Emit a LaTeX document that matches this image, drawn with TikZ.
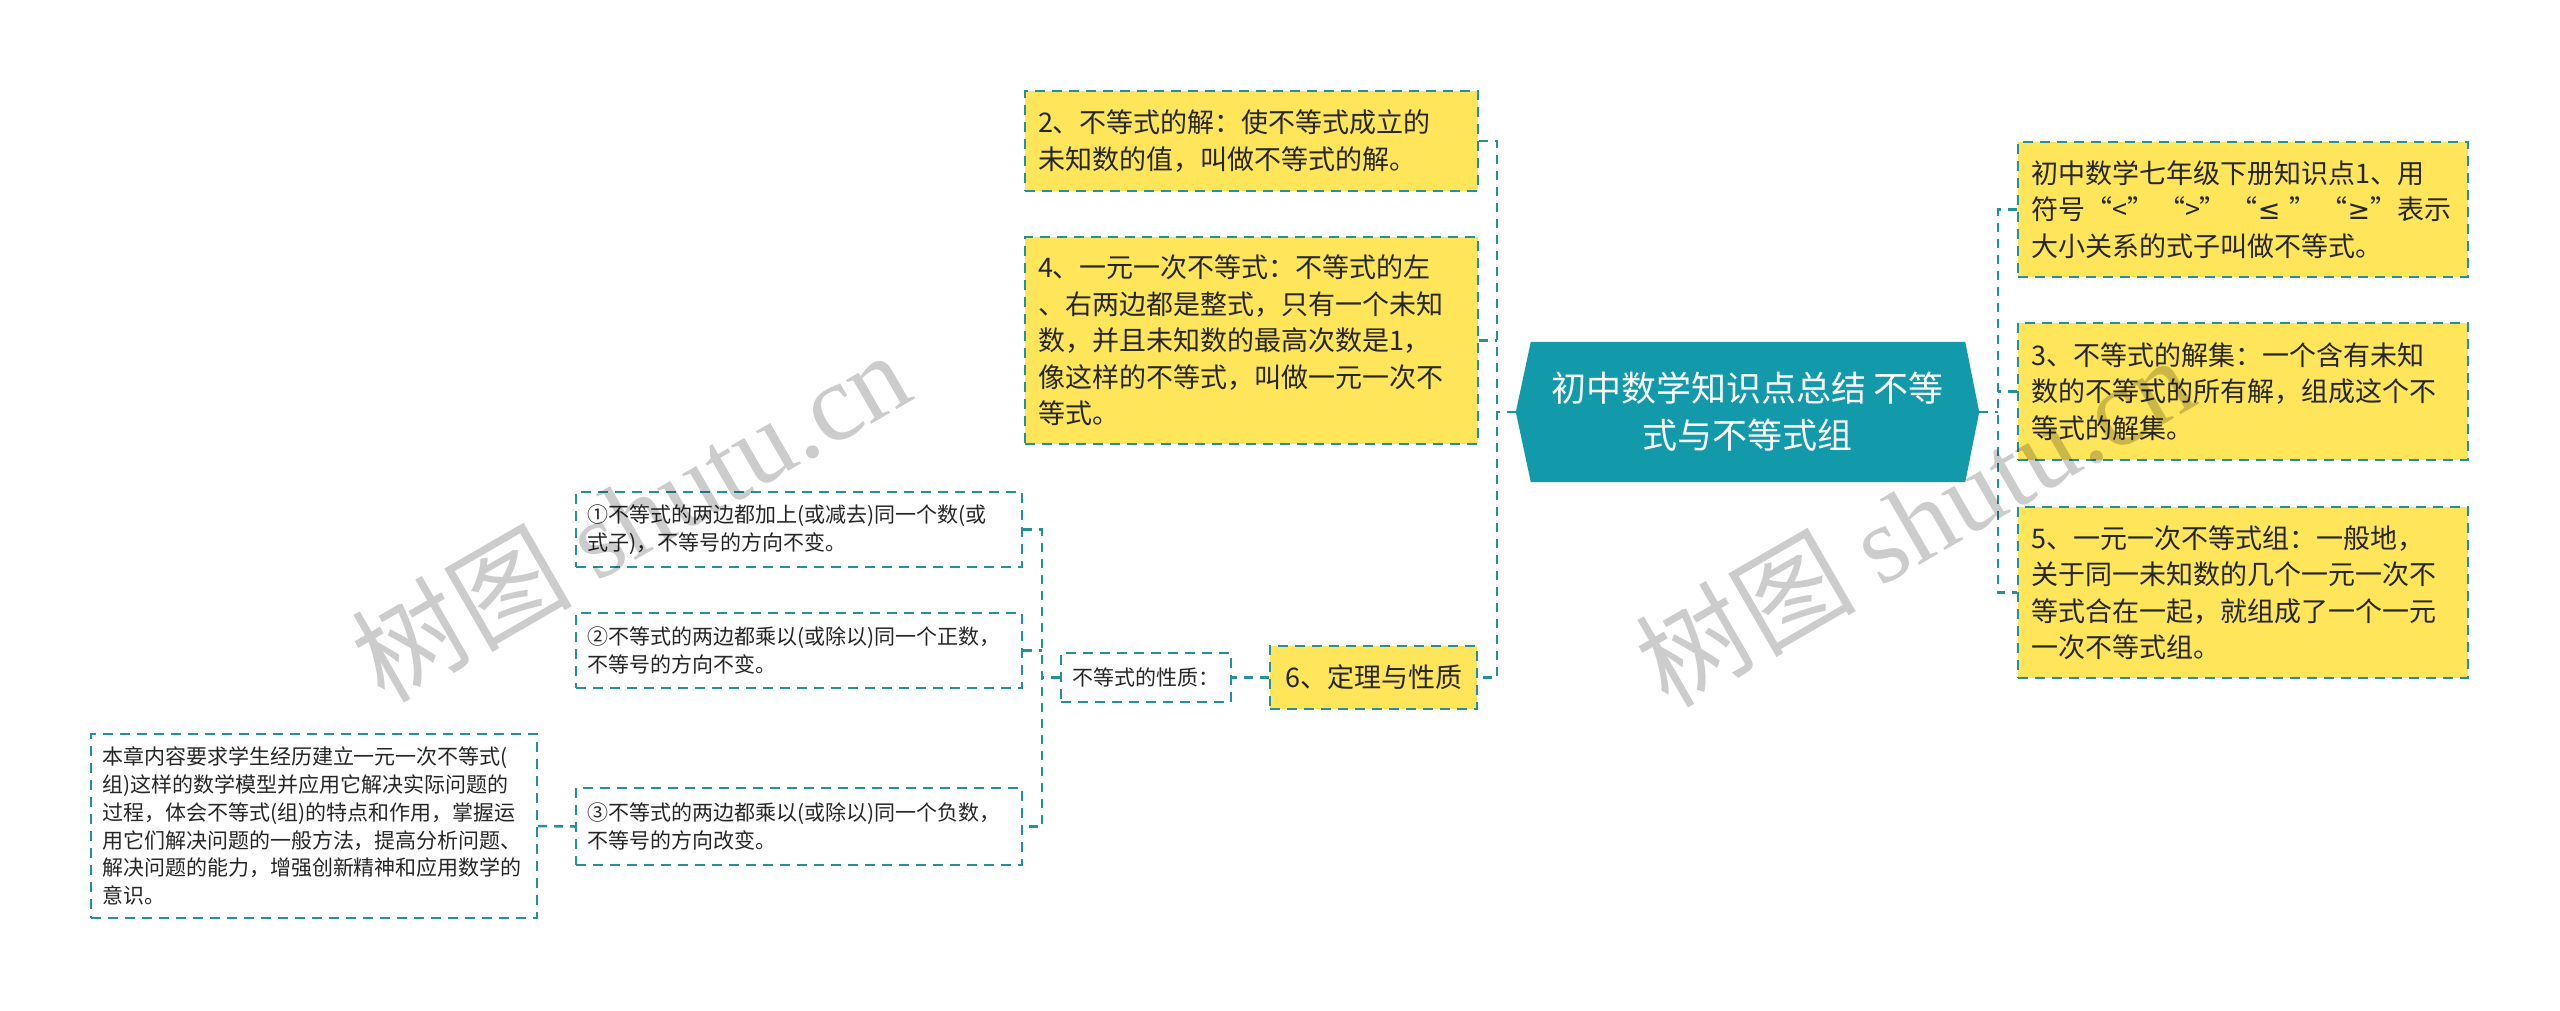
\documentclass[tikz,border=0pt]{standalone}
\usepackage{fontspec}
\setmainfont{Noto Sans CJK SC}
\newfontfamily\wmserif{Liberation Serif}
\newfontfamily\symfont{DejaVu Sans}
\usetikzlibrary{backgrounds}
\definecolor{yel}{HTML}{FEE55A}
\definecolor{tealline}{HTML}{23909B}
\definecolor{hexfill}{HTML}{129AAA}
\definecolor{txt}{HTML}{262626}
\tikzset{
  conn/.style={draw=tealline, line width=2.5pt, dash pattern=on 9pt off 7pt},
  boxbase/.style={draw=tealline, line width=2pt, dash pattern=on 10pt off 7pt, text=txt, inner ysep=0pt, anchor=center},
  ybox/.style={boxbase, fill=yel, align=left, inner xsep=13pt},
  wbox/.style={boxbase, fill=white, align=left, inner xsep=11pt},
  bigtext/.style={font=\fontsize{27}{36.5}\selectfont},
  smalltext/.style={font=\fontsize{21}{27.8}\selectfont},
  hubtext/.style={font=\fontsize{35}{47}\selectfont, text=white, align=center, inner sep=0pt},
  watermark/.style={rotate=30, text=black, text opacity=0.2, font=\fontsize{110}{110}\selectfont, inner sep=0pt}
}
\begin{document}
\begin{tikzpicture}[x=1pt, y=-1pt]
\useasboundingbox (0,0) rectangle (2560,1010);

% central hub
\node[hubtext, minimum width=463pt, minimum height=140pt] (c) at (1747.5,412) {初中数学知识点总结 不等\\式与不等式组};
\begin{scope}[on background layer]
\fill[white] (0,0) rectangle (2560,1010);
\fill[hexfill] (c.west) -- ([xshift=15pt]c.north west) -- ([xshift=-14pt]c.north east) -- (c.east) -- ([xshift=-14pt]c.south east) -- ([xshift=15pt]c.south west) -- cycle;
\end{scope}

% left branch nodes
\node[ybox, bigtext, text width=427pt, minimum height=100pt] (n2) at (1251.5,141) {2、不等式的解：使不等式成立的\\未知数的值，叫做不等式的解。};
\node[ybox, bigtext, text width=427pt, minimum height=207pt] (n4) at (1251.5,340.5) {4、一元一次不等式：不等式的左\\、右两边都是整式，只有一个未知\\数，并且未知数的最高次数是1，\\像这样的不等式，叫做一元一次不\\等式。};
\node[ybox, bigtext, align=center, minimum width=207pt, minimum height=63pt] (n6) at (1373.5,677.5) {6、定理与性质};

% right branch nodes
\node[ybox, bigtext, text width=424pt, minimum height=135pt] (r1) at (2243,209.5) {初中数学七年级下册知识点1、用\\符号“<”\hspace{4pt}“>”\hspace{4pt}“{\symfont ≤} ”\hspace{4pt}“{\symfont ≥}”表示\\大小关系的式子叫做不等式。};
\node[ybox, bigtext, text width=424pt, minimum height=137pt] (r3) at (2243,391.5) {3、不等式的解集：一个含有未知\\数的不等式的所有解，组成这个不\\等式的解集。};
\node[ybox, bigtext, text width=424pt, minimum height=171pt] (r5) at (2243,592.5) {5、一元一次不等式组：一般地，\\关于同一未知数的几个一元一次不\\等式合在一起，就组成了一个一元\\一次不等式组。};

% properties subtree
\node[wbox, smalltext, align=center, minimum width=170pt, minimum height=49pt] (prop) at (1146,677.5) {不等式的性质：};
\node[wbox, smalltext, text width=424pt, minimum height=75pt] (p1) at (799,529.5) {①不等式的两边都加上(或减去)同一个数(或\\式子)，不等号的方向不变。};
\node[wbox, smalltext, text width=424pt, minimum height=75pt] (p2) at (799,650.5) {②不等式的两边都乘以(或除以)同一个正数，\\不等号的方向不变。};
\node[wbox, smalltext, text width=424pt, minimum height=77pt] (p3) at (799,826.5) {③不等式的两边都乘以(或除以)同一个负数，\\不等号的方向改变。};
\node[wbox, smalltext, text width=424pt, minimum height=184pt] (note) at (314,826) {本章内容要求学生经历建立一元一次不等式(\\组)这样的数学模型并应用它解决实际问题的\\过程，体会不等式(组)的特点和作用，掌握运\\用它们解决问题的一般方法，提高分析问题、\\解决问题的能力，增强创新精神和应用数学的\\意识。};

% junction coordinates
\coordinate (cl) at (1497,412);
\coordinate (cr) at (1998,412);
\coordinate (pl) at (1042,677.5);

% connectors: hub left
\draw[conn] (c.west) -- (cl);
\draw[conn] (n2.east) -- (n2.east -| cl) -- (n6.east -| cl) -- (n6.east);
\draw[conn] (n4.east) -- (n4.east -| cl);
% connectors: hub right
\draw[conn] (c.east) -- (cr);
\draw[conn] (r1.west) -- (r1.west -| cr) -- (r5.west -| cr) -- (r5.west);
\draw[conn] (r3.west) -- (r3.west -| cr);
% properties
\draw[conn] (n6.west) -- (prop.east);
\draw[conn] (prop.west) -- (pl);
\draw[conn] (p1.east) -- (p1.east -| pl) -- (p3.east -| pl) -- (p3.east);
\draw[conn] (p2.east) -- (p2.east -| pl);
\draw[conn] (note.east) -- (p3.west);

% watermarks
\node[watermark] (wm1) at (630,515) {树图 {\wmserif shutu.cn}};
\node[watermark] (wm2) at (1914,520) {树图 {\wmserif shutu.cn}};
\end{tikzpicture}
\end{document}
